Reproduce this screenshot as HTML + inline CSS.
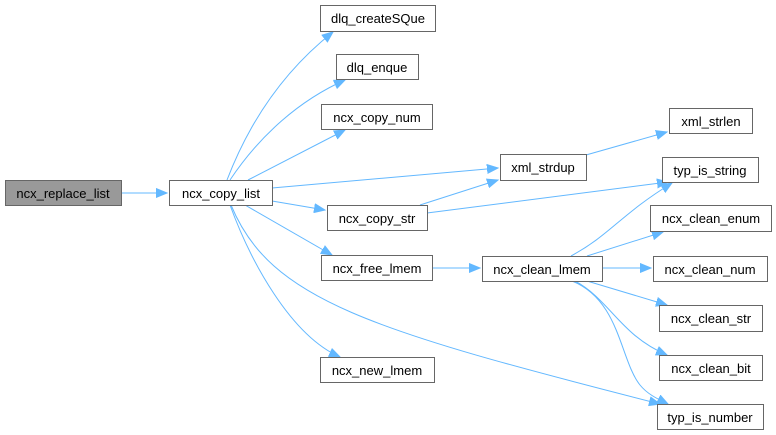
<!DOCTYPE html>
<html><head><meta charset="utf-8"><style>
html,body{margin:0;padding:0;background:#fff;width:776px;height:435px;overflow:hidden}
text{font-family:"Liberation Sans",Arial,sans-serif;font-size:13px;fill:#000}
</style></head><body>
<svg width="776" height="435" viewBox="0 0 776 435" xmlns="http://www.w3.org/2000/svg">
<defs><marker id="a" markerWidth="12" markerHeight="10" refX="11" refY="5" orient="auto" markerUnits="userSpaceOnUse"><path d="M0,0.5 L11,5 L0,9.5 Z" fill="#63b8ff" stroke="#63b8ff"/></marker></defs>
<g fill="none" stroke="#63b8ff" stroke-width="1" marker-end="url(#a)">
<path d="M121,193 L167,193"/>
<path d="M227,180 C250,120 285,70 333,32"/>
<path d="M230,180 C260,135 300,100 345,80"/>
<path d="M248,180 L345,130"/>
<path d="M272,188 L498,168"/>
<path d="M272,201 L325,210"/>
<path d="M245,205 L332,255"/>
<path d="M230,205 C250,260 290,335 340,357"/>
<path d="M231,205 C270,300 370,330 660,404"/>
<path d="M420,205 L498,180"/>
<path d="M427,213 L668,182"/>
<path d="M586,155 L667,132"/>
<path d="M432,268 L480,268"/>
<path d="M571,256 C610,235 620,215 672,183"/>
<path d="M587,256 L663,232"/>
<path d="M602,268 L651,268"/>
<path d="M587,281 L667,305"/>
<path d="M575,281 C610,300 620,335 667,355"/>
<path d="M572,281 C620,300 620,360 640,385 C648,395 660,400 668,404"/>
</g>
<g stroke="#666" stroke-width="1">
<rect x="5.5" y="180.5" width="116" height="25" fill="#999"/>
<rect x="169.5" y="180.5" width="103" height="25" fill="#fff"/>
<rect x="320.5" y="5.5" width="115" height="26" fill="#fff"/>
<rect x="336.5" y="54.5" width="82" height="25" fill="#fff"/>
<rect x="321.5" y="104.5" width="111" height="25" fill="#fff"/>
<rect x="500.5" y="154.5" width="86" height="26" fill="#fff"/>
<rect x="327.5" y="205.5" width="100" height="25" fill="#fff"/>
<rect x="321.5" y="255.5" width="111" height="25" fill="#fff"/>
<rect x="320.5" y="357.5" width="114" height="25" fill="#fff"/>
<rect x="482.5" y="256.5" width="120" height="25" fill="#fff"/>
<rect x="669.5" y="108.5" width="83" height="25" fill="#fff"/>
<rect x="662.5" y="157.5" width="96" height="25" fill="#fff"/>
<rect x="650.5" y="205.5" width="121" height="26" fill="#fff"/>
<rect x="653.5" y="256.5" width="114" height="25" fill="#fff"/>
<rect x="659.5" y="305.5" width="103" height="26" fill="#fff"/>
<rect x="659.5" y="355.5" width="103" height="25" fill="#fff"/>
<rect x="657.5" y="404.5" width="106" height="25" fill="#fff"/>
</g>
<g text-anchor="middle">
<text x="63" y="198">ncx_replace_list</text>
<text x="221" y="198">ncx_copy_list</text>
<text x="378" y="23">dlq_createSQue</text>
<text x="377" y="72">dlq_enque</text>
<text x="377" y="122">ncx_copy_num</text>
<text x="543" y="172">xml_strdup</text>
<text x="377" y="223">ncx_copy_str</text>
<text x="377" y="273">ncx_free_lmem</text>
<text x="377" y="375">ncx_new_lmem</text>
<text x="542" y="274">ncx_clean_lmem</text>
<text x="711" y="126">xml_strlen</text>
<text x="710" y="175">typ_is_string</text>
<text x="711" y="223">ncx_clean_enum</text>
<text x="710" y="274">ncx_clean_num</text>
<text x="711" y="323">ncx_clean_str</text>
<text x="711" y="373">ncx_clean_bit</text>
<text x="710" y="422">typ_is_number</text>
</g>
</svg>
</body></html>
